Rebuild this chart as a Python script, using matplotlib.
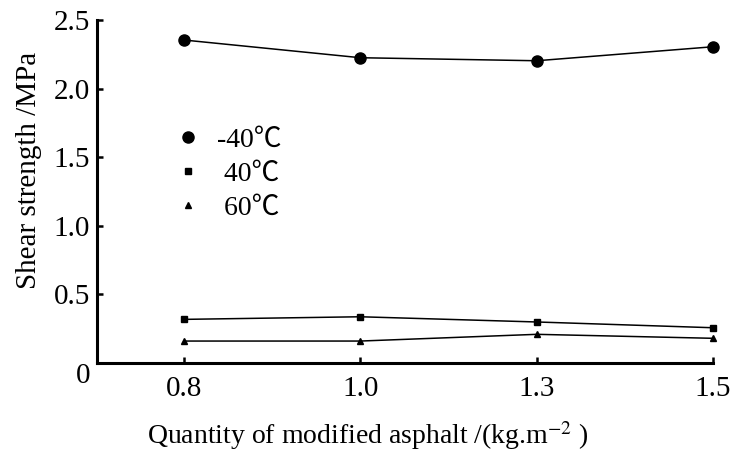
import matplotlib
matplotlib.use("Agg")
import matplotlib.pyplot as plt
from matplotlib.lines import Line2D

plt.rcParams['font.family'] = ['Liberation Serif', 'Noto Sans CJK SC', 'DejaVu Sans']
plt.rcParams['mathtext.fontset'] = 'stix'

categories = ['0.8', '1.0', '1.3', '1.5']
series_names = ['-40\u2103', ' 40\u2103', ' 60\u2103']
vals_m40 = [2.354, 2.225, 2.203, 2.305]
vals_40 = [0.318, 0.337, 0.299, 0.257]
vals_60 = [0.160, 0.160, 0.209, 0.180]
yticks = [0.5, 1.0, 1.5, 2.0, 2.5]
ytick_labels = ['0.5', '1.0', '1.5', '2.0', '2.5']

fig = plt.figure(figsize=(7.31, 4.55), dpi=100)
ax = fig.add_axes([97/731, 92/455, 616/731, 343/455])

x = list(range(len(categories)))
ax.plot(x, vals_m40, color='black', lw=1.1, marker='o', ms=8, clip_on=False)
ax.plot(x, vals_40, color='black', lw=1.1, marker='s', ms=4.5, clip_on=False)
ax.plot(x, vals_60, color='black', lw=1.1, marker='^', ms=4.5, clip_on=False)

ax.set_xlim(-0.494, 3.0)
ax.set_ylim(0, 2.5)
ax.set_xticks(x)
ax.set_xticklabels(categories)
ax.set_yticks(yticks)
ax.set_yticklabels(ytick_labels)
for s in ['top', 'right']:
    ax.spines[s].set_visible(False)
for s in ['left', 'bottom']:
    ax.spines[s].set_linewidth(2.2)
ax.tick_params(axis='both', direction='in', length=4, width=1.8, labelsize=21)
ax.tick_params(axis='y', pad=5)
ax.tick_params(axis='x', pad=9)
ax.text(-0.01, 0, '0', transform=ax.get_yaxis_transform(), ha='right', va='top',
        fontsize=21)

ax.set_xlabel(r'Quantity of modified asphalt /(kg.m$^{-2}$ )', fontsize=20)
ax.xaxis.set_label_coords(0.44, -0.165)
ax.set_ylabel('Shear strength /MPa', fontsize=21)
ax.yaxis.set_label_coords(-0.09, 0.563)

handles = [Line2D([], [], color='black', marker='o', ms=8, linestyle='none'),
           Line2D([], [], color='black', marker='s', ms=4.5, linestyle='none'),
           Line2D([], [], color='black', marker='^', ms=4.5, linestyle='none')]
ax.legend(handles, series_names, loc='center left', bbox_to_anchor=(0.125, 0.551),
          frameon=False, fontsize=20, borderpad=0, borderaxespad=0,
          handlelength=1.0, handletextpad=0.55, labelspacing=0.31)

fig.savefig('out.png', dpi=100)
